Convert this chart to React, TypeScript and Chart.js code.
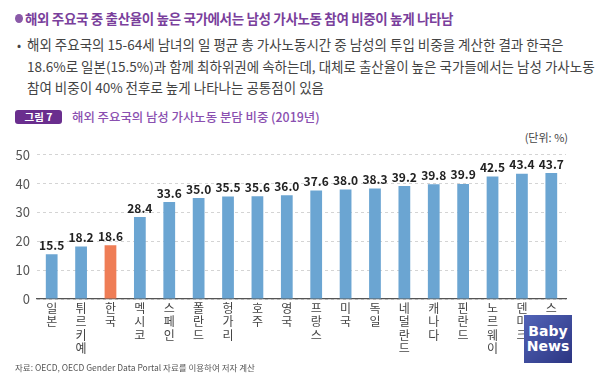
import React, { useEffect, useRef } from "react";
import { Chart, registerables } from "chart.js";

Chart.register(...registerables);

const countries = ["일본", "튀르키예", "한국", "멕시코", "스페인", "폴란드", "헝가리", "호주", "영국", "프랑스", "미국", "독일", "네덜란드", "캐나다", "핀란드", "노르웨이", "덴마크", "스웨덴"];
const shares = [15.5, 18.2, 18.6, 28.4, 33.6, 35.0, 35.5, 35.6, 36.0, 37.6, 38.0, 38.3, 39.2, 39.8, 39.9, 42.5, 43.4, 43.7];
const highlight = "한국";
const yTicks = [0, 10, 20, 30, 40, 50];

const FONT = "'Noto Sans CJK KR', 'Noto Sans', sans-serif";
const BLUE = "#6ba5d2";
const ORANGE = "#ef7d56";

const valueLabels = {
  id: "valueLabels",
  afterDatasetsDraw(chart: any) {
    const ctx = chart.ctx;
    const meta = chart.getDatasetMeta(0);
    ctx.save();
    ctx.font = `bold 12px ${FONT}`;
    ctx.fillStyle = "#222";
    ctx.textAlign = "center";
    ctx.textBaseline = "bottom";
    meta.data.forEach((bar: any, i: number) => {
      ctx.fillText(shares[i].toFixed(1), bar.x, bar.y - 3);
    });
    ctx.restore();
  },
};

export default function App() {
  const ref = useRef<HTMLCanvasElement>(null);
  useEffect(() => {
    document.body.style.margin = "0";
    const chart = new Chart(ref.current!, {
      type: "bar",
      data: {
        labels: countries.map((c) => c.split("")),
        datasets: [
          {
            data: shares,
            backgroundColor: countries.map((c) => (c === highlight ? ORANGE : BLUE)),
            barPercentage: 0.4,
            categoryPercentage: 1,
          },
        ],
      },
      options: {
        animation: false,
        responsive: false,
        maintainAspectRatio: false,
        layout: { padding: { top: 11, left: 0, right: 34, bottom: 0 } },
        plugins: { legend: { display: false }, tooltip: { enabled: false } },
        scales: {
          x: {
            grid: { display: false, drawTicks: false },
            border: { display: true, color: "#555", width: 1.2 },
            ticks: {
              color: "#444",
              font: { family: FONT, size: 12, lineHeight: 1.1 },
              padding: 3,
              maxRotation: 0,
              autoSkip: false,
            },
            afterFit: (s: any) => {
              s.height = 81;
            },
          },
          y: {
            min: 0,
            max: 50,
            afterBuildTicks: (s: any) => {
              s.ticks = yTicks.map((v) => ({ value: v }));
            },
            grid: { color: "#d4d4d4", drawTicks: false, tickLength: 0 },
            border: { display: false, dash: [3, 3] },
            ticks: {
              color: "#555",
              font: { family: FONT, size: 13 },
              padding: 7,
            },
            afterFit: (s: any) => {
              s.width = 37;
            },
          },
        },
      },
      plugins: [valueLabels],
    });
    return () => chart.destroy();
  }, []);

  const abs = (s: React.CSSProperties): React.CSSProperties => ({ position: "absolute", whiteSpace: "nowrap", fontFamily: FONT, ...s });

  return (
    <div style={{ position: "relative", width: 600, height: 380, background: "#fff", overflow: "hidden" }}>
      <div style={abs({ left: 15, top: 14, width: 8, height: 9, borderRadius: "50%", background: "#8a5aa8" })} />
      <div style={abs({ left: 25, top: 8, fontSize: 13.5, fontWeight: 700, color: "#7a3f9c", letterSpacing: -0.35, lineHeight: "20px" })}>
        해외 주요국 중 출산율이 높은 국가에서는 남성 가사노동 참여 비중이 높게 나타남
      </div>
      <div style={abs({ left: 17, top: 35, fontSize: 12, color: "#444", lineHeight: "20px" })}>•</div>
      <div style={abs({ left: 27, top: 34, fontSize: 13.5, color: "#444", lineHeight: "21.5px", letterSpacing: 0 })}>
        해외 주요국의 15-64세 남녀의 일 평균 총 가사노동시간 중 남성의 투입 비중을 계산한 결과 한국은
        <br />
        18.6%로 일본(15.5%)과 함께 최하위권에 속하는데, 대체로 출산율이 높은 국가들에서는 남성 가사노동
        <br />
        참여 비중이 40% 전후로 높게 나타나는 공통점이 있음
      </div>
      <div style={abs({ left: 15, top: 110, width: 47, height: 14, borderRadius: 3, background: "#6a2e8e", color: "#fff", fontSize: 10.5, fontWeight: 700, lineHeight: "14px", textAlign: "center" })}>
        그림 7
      </div>
      <div style={abs({ left: 72, top: 108, fontSize: 12.4, color: "#8a4fb0", lineHeight: "18px", fontWeight: 500 })}>
        해외 주요국의 남성 가사노동 분담 비중 (2019년)
      </div>
      <div style={abs({ right: 32, top: 129, fontSize: 11, color: "#444", lineHeight: "16px" })}>(단위: %)</div>
      <canvas ref={ref} width={600} height={240} style={{ position: "absolute", left: 0, top: 140, width: 600, height: 240 }} />
      <div style={abs({ left: 15, top: 360, fontSize: 8.5, color: "#555", lineHeight: "14px" })}>
        자료: OECD, OECD Gender Data Portal 자료를 이용하여 저자 계산
      </div>
      <div style={abs({ left: 524, top: 315, width: 48, height: 48, background: "linear-gradient(135deg, #5264b8, #2c3582)", color: "#fff", textAlign: "center", fontFamily: "'DejaVu Sans', sans-serif", fontWeight: 700, fontSize: 14, lineHeight: "15px", paddingTop: 9, boxSizing: "border-box" })}>
        Baby
        <br />
        News
      </div>
    </div>
  );
}
